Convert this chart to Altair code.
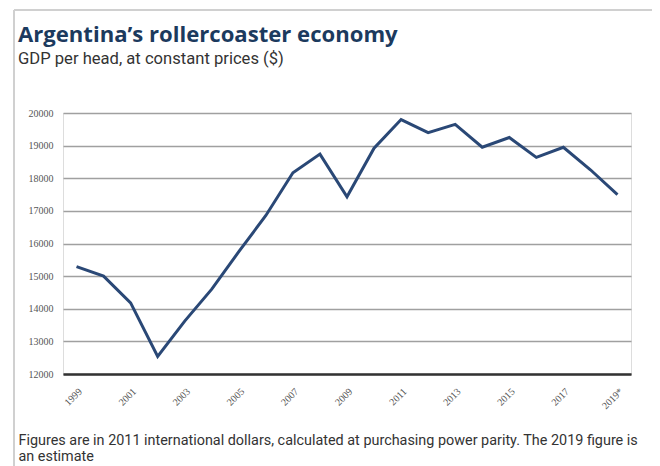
import altair as alt
import pandas as pd

years = list(range(1999, 2020))
gdp = [15290, 15000, 14180, 12540, 13620, 14600, 15750, 16860, 18170, 18740,
       17430, 18920, 19800, 19400, 19650, 18950, 19250, 18640, 18950, 18260, 17500]
tick_years = [1999, 2001, 2003, 2005, 2007, 2009, 2011, 2013, 2015, 2017, 2019]
y_ticks = [12000, 13000, 14000, 15000, 16000, 17000, 18000, 19000, 20000]

title = "Argentina\u2019s rollercoaster economy"
subtitle = "GDP per head, at constant prices ($)"
footnote = ["Figures are in 2011 international dollars, calculated at purchasing power parity. The 2019 figure is",
            "an estimate"]

df = pd.DataFrame({"year": years, "gdp": gdp})
one = pd.DataFrame({"k": [0]})

W, H = 568, 261

line = alt.Chart(df).mark_line(color="#2a4876", strokeWidth=3, strokeJoin="miter").encode(
    x=alt.X("year:Q",
            scale=alt.Scale(domain=[1998.5, 2019.5], nice=False, zero=False),
            axis=alt.Axis(values=tick_years, grid=False, ticks=False,
                          domain=True, domainColor="#333333", domainWidth=2.5,
                          labelAngle=-45, labelAlign="right", labelBaseline="top",
                          labelPadding=12, labelFont="Liberation Sans Narrow",
                          labelFontSize=10, labelColor="#555555",
                          labelExpr="datum.value == 2019 ? '2019*' : datum.value + ''",
                          title=footnote, titleFont="Roboto", titleFontSize=14.4,
                          titleFontWeight="normal", titleColor="#333333",
                          titleAnchor="start", titleAlign="left", titleBaseline="alphabetic",
                          titleX=-45, titleY=70, titleLineHeight=16)),
    y=alt.Y("gdp:Q",
            scale=alt.Scale(domain=[12000, 20000], nice=False, zero=False),
            axis=alt.Axis(values=y_ticks, grid=True, gridColor="#a0a0a0", gridWidth=1.5,
                          ticks=False, domain=False, labelPadding=10,
                          labelFont="Liberation Sans Narrow", labelFontSize=10,
                          labelColor="#555555", format="d", title=None)),
)

frame_color = "#d0d0d0"
left = alt.Chart(one).mark_rule(color=frame_color, strokeWidth=2, clip=False).encode(
    x=alt.value(-49), y=alt.value(-103), y2=alt.value(400))
top = alt.Chart(one).mark_rule(color=frame_color, strokeWidth=2, clip=False).encode(
    x=alt.value(-49), x2=alt.value(594), y=alt.value(-103))
right = alt.Chart(one).mark_rule(color=frame_color, strokeWidth=2, clip=False).encode(
    x=alt.value(594), y=alt.value(-103), y2=alt.value(400))

title_mark = alt.Chart(one).mark_text(
    align="left", baseline="alphabetic", font="Open Sans", fontSize=22.1, fontWeight="bold",
    color="#1c3a5e", clip=False
).encode(x=alt.value(-45), y=alt.value(-71), text=alt.value(title))

subtitle_mark = alt.Chart(one).mark_text(
    align="left", baseline="alphabetic", font="Roboto", fontSize=16.6,
    color="#333333", clip=False
).encode(x=alt.value(-45), y=alt.value(-49), text=alt.value(subtitle))

chart = alt.layer(line, left, top, right, title_mark, subtitle_mark).properties(
    width=W, height=H,
    autosize=alt.AutoSizeParams(type="none"),
    padding={"left": 55, "top": 105, "right": 21, "bottom": 100},
).configure_view(stroke=None).configure(background="white")

chart.save("out.html", embed_options={"renderer": "svg", "actions": False})
